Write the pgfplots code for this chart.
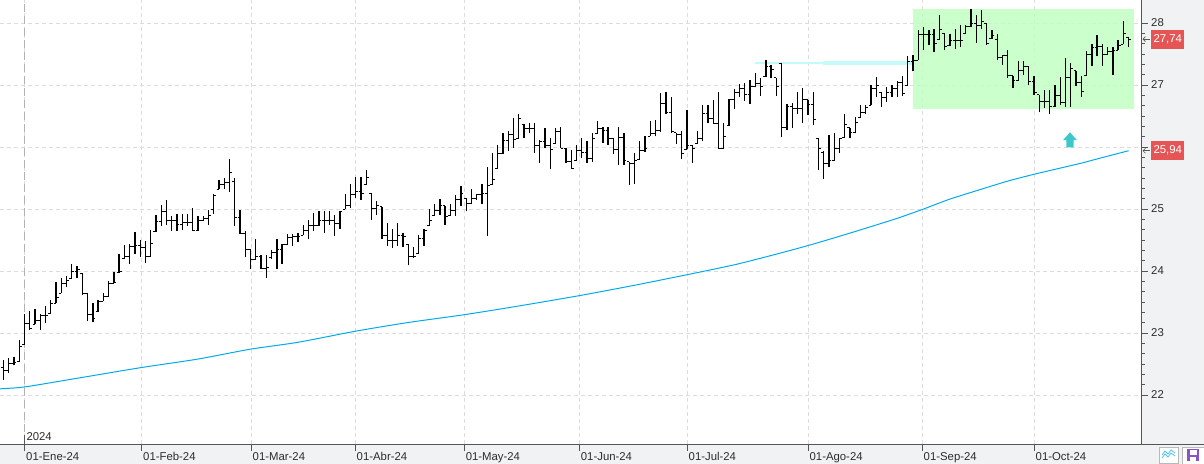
\documentclass[border=0pt]{standalone}
\usepackage{pgfplots}
\usepackage{pgfplotstable}
\pgfplotsset{compat=1.18}
\usepackage{fontspec}
\setmainfont{Liberation Sans}

\definecolor{gridc}{RGB}{220,220,220}
\definecolor{axc}{RGB}{85,85,85}
\definecolor{txt}{RGB}{45,45,45}
\definecolor{mac}{RGB}{0,170,235}
\definecolor{boxgreen}{RGB}{190,255,190}
\definecolor{cyanl}{RGB}{195,250,252}
\definecolor{arrowc}{RGB}{60,200,200}
\definecolor{redl}{RGB}{230,85,85}
\definecolor{panel}{RGB}{241,242,244}
\definecolor{floppy}{RGB}{140,80,200}

\pgfdeclareplotmark{otick}{\pgfpathmoveto{\pgfqpoint{-2.5bp}{0pt}}\pgfpathlineto{\pgfqpoint{0pt}{0pt}}\pgfusepathqstroke}
\pgfdeclareplotmark{ctick}{\pgfpathmoveto{\pgfqpoint{0pt}{0pt}}\pgfpathlineto{\pgfqpoint{2.5bp}{0pt}}\pgfusepathqstroke}

\pgfplotstableread{
n O H L C
-5 22.40 22.55 22.35 22.48
-4 22.45 22.57 22.24 22.40
-3 22.40 22.59 22.35 22.51
-2 22.51 22.62 22.48 22.52
-1 22.54 22.89 22.54 22.78
0 22.81 23.30 22.81 23.16
1 23.16 23.35 23.05 23.08
2 23.14 23.38 23.14 23.20
3 23.20 23.30 23.05 23.29
4 23.29 23.44 23.16 23.29
5 23.32 23.54 23.32 23.48
6 23.48 23.83 23.48 23.57
7 23.64 23.88 23.64 23.80
8 23.80 23.92 23.75 23.84
9 23.88 24.12 23.88 23.99
10 23.99 24.08 23.88 24.02
11 23.96 23.96 23.62 23.63
12 23.63 23.65 23.19 23.30
13 23.30 23.49 23.17 23.24
14 23.34 23.54 23.34 23.51
15 23.51 23.64 23.51 23.59
16 23.59 23.84 23.59 23.80
17 23.80 23.99 23.80 23.81
18 23.97 24.27 23.97 23.99
19 24.20 24.42 24.20 24.23
20 24.23 24.43 24.12 24.39
21 24.39 24.63 24.28 24.41
22 24.41 24.50 24.23 24.38
23 24.38 24.48 24.13 24.24
24 24.24 24.66 24.24 24.44
25 24.63 24.90 24.63 24.80
26 24.80 25.06 24.73 24.96
27 24.96 25.15 24.74 24.81
28 24.81 24.89 24.65 24.81
29 24.81 24.92 24.65 24.75
30 24.75 24.92 24.66 24.78
31 24.78 24.92 24.73 24.79
32 24.79 25.01 24.65 24.66
33 24.66 24.89 24.65 24.81
34 24.81 24.89 24.80 24.85
35 24.85 24.98 24.74 24.90
36 24.99 25.25 24.92 25.22
37 25.32 25.47 25.32 25.39
38 25.39 25.50 25.33 25.42
39 25.42 25.80 25.28 25.59
40 25.45 25.50 24.73 24.87
41 24.87 24.98 24.59 24.60
42 24.60 24.65 24.22 24.34
43 24.34 24.35 24.04 24.19
44 24.19 24.51 24.18 24.24
45 24.24 24.26 24.03 24.04
46 24.04 24.26 23.89 24.06
47 24.22 24.34 24.20 24.30
48 24.30 24.51 24.04 24.34
49 24.34 24.44 24.12 24.42
50 24.42 24.59 24.42 24.54
51 24.54 24.59 24.40 24.56
52 24.56 24.62 24.47 24.56
53 24.58 24.74 24.58 24.66
54 24.66 24.82 24.51 24.74
55 24.74 24.94 24.65 24.74
56 24.74 24.97 24.73 24.81
57 24.81 24.97 24.62 24.81
58 24.81 24.97 24.74 24.82
59 24.82 24.91 24.57 24.76
60 24.76 24.97 24.68 24.96
61 25.00 25.24 25.00 25.06
62 25.06 25.40 25.01 25.23
63 25.23 25.52 25.17 25.29
64 25.29 25.51 25.15 25.25
65 25.39 25.63 25.39 25.51
66 25.25 25.25 24.82 25.01
67 25.01 25.13 24.90 25.06
68 25.04 25.04 24.52 24.58
69 24.58 24.78 24.41 24.50
70 24.50 24.68 24.37 24.50
71 24.50 24.78 24.41 24.58
72 24.58 24.62 24.38 24.55
73 24.43 24.43 24.09 24.23
74 24.23 24.39 24.21 24.23
75 24.28 24.58 24.28 24.52
76 24.52 24.68 24.41 24.65
77 24.73 25.00 24.73 24.82
78 24.90 25.08 24.90 24.98
79 24.98 25.16 24.91 25.05
80 25.05 25.05 24.75 24.88
81 24.89 25.08 24.89 24.98
82 24.98 25.23 24.89 25.16
83 25.16 25.37 25.05 25.25
84 25.17 25.17 24.96 25.09
85 25.09 25.33 25.08 25.17
86 25.17 25.25 25.15 25.23
87 25.23 25.41 25.08 25.25
88 25.25 25.68 24.57 25.38
89 25.40 25.90 25.39 25.47
90 25.66 26.03 25.66 25.90
91 25.90 26.23 25.89 26.10
92 26.10 26.26 25.94 26.20
93 26.20 26.46 25.99 26.12
94 26.14 26.54 26.14 26.46
95 26.37 26.37 26.14 26.30
96 26.30 26.38 26.22 26.30
97 26.30 26.39 25.91 26.03
98 26.03 26.12 25.75 26.09
99 26.09 26.30 25.98 26.03
100 26.03 26.15 25.64 25.96
101 26.06 26.30 26.06 26.25
102 26.25 26.32 25.98 25.98
103 25.98 25.98 25.75 25.76
104 25.76 25.95 25.64 25.66
105 25.78 26.03 25.78 25.95
106 25.95 26.14 25.83 25.91
107 25.91 26.09 25.74 25.82
108 25.82 26.22 25.76 26.14
109 26.22 26.42 26.22 26.30
110 26.30 26.33 26.06 26.26
111 26.26 26.32 26.03 26.14
112 26.14 26.14 25.89 25.96
113 25.96 26.33 25.71 26.16
114 26.16 26.23 25.71 25.78
115 25.76 25.76 25.39 25.74
116 25.74 25.91 25.41 25.79
117 25.80 26.09 25.80 25.95
118 25.95 26.17 25.92 25.98
119 26.17 26.42 26.17 26.22
120 26.22 26.44 26.17 26.26
121 26.26 26.87 26.25 26.70
122 26.70 26.88 26.53 26.55
123 26.55 26.80 26.22 26.25
124 26.23 26.23 26.05 26.20
125 26.20 26.26 25.80 25.89
126 25.96 26.60 25.96 26.03
127 26.03 26.03 25.74 25.97
128 26.06 26.26 26.06 26.14
129 26.14 26.68 26.10 26.54
130 26.54 26.68 26.38 26.46
131 26.46 26.76 26.38 26.38
132 26.38 26.88 25.97 25.98
133 25.98 26.38 25.97 26.17
134 26.34 26.78 26.34 26.77
135 26.77 26.93 26.62 26.88
136 26.88 27.01 26.81 26.95
137 26.95 27.04 26.75 26.84
138 26.84 27.08 26.70 26.97
139 26.97 27.20 26.96 27.03
140 27.03 27.11 26.82 26.97
141 27.13 27.41 27.13 27.30
142 27.30 27.32 27.11 27.25
143 27.12 27.12 26.82 26.97
144 27.34 27.36 26.16 26.32
145 26.32 26.70 26.28 26.66
146 26.66 26.71 26.30 26.62
147 26.62 26.88 26.54 26.62
148 26.62 26.95 26.39 26.76
149 26.76 26.76 26.52 26.68
150 26.68 26.89 26.35 26.45
151 26.14 26.14 25.63 25.98
152 25.91 25.94 25.49 25.74
153 25.74 26.20 25.67 25.79
154 25.79 26.22 25.78 25.97
155 25.97 26.14 25.90 26.13
156 26.15 26.54 26.15 26.37
157 26.31 26.31 26.15 26.23
158 26.23 26.49 26.22 26.40
159 26.47 26.67 26.47 26.56
160 26.56 26.67 26.54 26.63
161 26.67 27.00 26.67 26.95
162 26.95 27.13 26.81 27.00
163 26.88 26.88 26.65 26.80
164 26.80 26.97 26.73 26.88
165 26.88 27.00 26.80 26.95
166 26.95 27.06 26.81 27.04
167 27.04 27.15 26.83 26.87
168 26.99 27.46 26.99 27.38
169 27.38 27.48 27.22 27.40
170 27.40 27.89 27.40 27.82
171 27.82 27.94 27.56 27.82
172 27.82 27.89 27.65 27.82
173 27.82 27.90 27.54 27.67
174 27.73 28.13 27.73 27.90
175 27.83 27.83 27.56 27.62
176 27.63 27.83 27.63 27.71
177 27.71 27.90 27.58 27.71
178 27.71 27.97 27.62 27.71
179 27.83 27.97 27.83 27.94
180 27.94 28.23 27.94 28.00
181 28.00 28.13 27.67 27.96
182 27.96 28.21 27.90 28.03
183 28.00 28.00 27.65 27.67
184 27.75 27.89 27.75 27.80
185 27.74 27.82 27.40 27.45
186 27.45 27.49 27.32 27.47
187 27.47 27.56 27.11 27.15
188 27.15 27.15 26.95 27.08
189 27.08 27.39 27.06 27.23
190 27.23 27.38 27.16 27.30
191 27.30 27.30 27.00 27.06
192 27.06 27.15 26.84 26.88
193 26.84 26.84 26.56 26.73
194 26.73 26.92 26.63 26.74
195 26.74 26.92 26.53 26.66
196 26.66 27.00 26.65 26.83
197 26.83 27.13 26.67 26.71
198 26.71 27.43 26.65 27.12
199 27.12 27.35 26.65 27.26
200 27.23 27.23 26.99 27.04
201 27.04 27.15 26.81 26.90
202 27.16 27.55 27.16 27.50
203 27.50 27.66 27.30 27.60
204 27.60 27.81 27.46 27.62
205 27.62 27.66 27.31 27.49
206 27.49 27.61 27.48 27.54
207 27.54 27.61 27.16 27.55
208 27.56 27.73 27.56 27.63
209 27.66 28.03 27.66 27.83
210 27.77 27.77 27.61 27.74
}\ohlc

\pgfplotstableread{
n ma
-4.66 22.10
0 22.13
10 22.27
22 22.44
33 22.58
43 22.74
52 22.85
63 23.03
73 23.17
84 23.30
95 23.45
106 23.61
116 23.77
126 23.94
135 24.10
142 24.25
149 24.41
155 24.56
160 24.69
166 24.85
171 25.00
176 25.16
182 25.32
187 25.45
192 25.56
197 25.66
201 25.74
205 25.83
210 25.94
}\matab

\begin{document}
\begin{tikzpicture}
\useasboundingbox (0,0) rectangle (1204bp,464bp);
\fill[panel] (0,0) rectangle (1204bp,20bp);
\fill[panel] (1141bp,0) rectangle (1204bp,464bp);
\begin{axis}[
  at={(0,20bp)}, anchor=south west,
  scale only axis, width=1141bp, height=444bp,
  xmin=-4.66, xmax=212.35, ymin=21.21, ymax=28.371,
  axis x line*=bottom, axis y line*=right,
  axis line style={axc, line width=0.9bp},
  xtick={0,22.25,43.08,62.86,83.6,105.5,126,149,170.7,192},
  xticklabels={01-Ene-24,01-Feb-24,01-Mar-24,01-Abr-24,01-May-24,01-Jun-24,01-Jul-24,01-Ago-24,01-Sep-24,01-Oct-24},
  ytick={22,23,24,25,26,27,28},
  yticklabels={22,23,24,25,{},27,28},
  minor y tick num=5,
  tick align=outside,
  major tick length=7bp, minor tick length=3.5bp,
  tick style={axc, line width=0.8bp},
  grid=major,
  major grid style={gridc, dash pattern=on 4bp off 3bp, line width=0.8bp},
  ticklabel style={font=\fontsize{11.4}{13}\selectfont, text=txt},
  xticklabel style={anchor=north west, inner sep=1.5bp},
  yticklabel style={anchor=west, inner sep=1bp, xshift=2bp},
  clip=true,
]
\addplot[draw=none, fill=boxgreen, fill opacity=0.8] coordinates {(169,26.62) (211,26.62) (211,28.23) (169,28.23)} -- cycle;
\addplot[cyanl, line width=2bp] coordinates {(138.9,27.355) (151.9,27.355)};
\addplot[cyanl, line width=4.5bp] coordinates {(151.9,27.355) (169,27.355)};
\draw[gray!60, dash pattern=on 8bp off 4bp, line width=1bp] (axis cs:0,21.21) -- (axis cs:0,28.371);
\addplot[mac, line width=1bp, smooth, tension=0.4] table[x=n, y=ma] {\matab};
\addplot[black, line width=1.3bp, quiver={u=0, v=\thisrow{H}-\thisrow{L}}] table[x=n, y=L] {\ohlc};
\addplot[black, only marks, mark=otick, mark options={line width=1bp}] table[x=n, y=O] {\ohlc};
\addplot[black, only marks, mark=ctick, mark options={line width=1bp}] table[x=n, y=C] {\ohlc};
\addplot[draw=none, fill=arrowc] coordinates {(198.84,26.237) (200.17,26.11) (199.55,26.11) (199.55,25.995) (198.13,25.995) (198.13,26.11) (197.51,26.11)} -- cycle;
\coordinate (l1) at (axis cs:212.35,27.74);
\coordinate (l2) at (axis cs:212.35,25.94);
\coordinate (yr) at (axis cs:0,21.21);
\end{axis}
\draw[axc, line width=0.9bp] (1141bp,20bp) -- (1204bp,20bp);
\foreach \p/\t in {l1/{27,74}, l2/{25,94}} {
  \node[fill=redl, text=white, font=\fontsize{11.4}{13}\selectfont, anchor=west, minimum width=33bp, minimum height=19bp, inner sep=0pt] at ([xshift=10bp]\p) {\t};
  \draw[axc, line width=0.6bp] ([xshift=8.5bp]\p) -- ([xshift=2bp]\p);
  \draw[axc, line width=0.6bp] ([xshift=4.5bp,yshift=2.5bp]\p) -- ([xshift=2bp]\p) -- ([xshift=4.5bp,yshift=-2.5bp]\p);
}
\node[anchor=base west, inner sep=0pt, font=\fontsize{11.4}{13}\selectfont, text=txt] at ([xshift=1.8bp,yshift=4bp]yr) {2024};
\draw[gray!70!black, line width=0.8bp] (yr) -- ([yshift=9bp]yr);
\draw[gray!55, fill=white] (1159bp,1bp) rectangle (1178bp,17bp);
\draw[mac!70, line width=0.8bp] (1162bp,6bp) -- (1165bp,10bp) -- (1168bp,7bp) -- (1171bp,11bp) -- (1175bp,8bp);
\draw[mac!70, line width=0.8bp] (1162bp,9bp) -- (1165bp,13bp) -- (1168bp,10bp) -- (1171bp,14bp) -- (1175bp,11bp);
\draw[gray!55, fill=white] (1182bp,0bp) rectangle (1204bp,17bp);
\fill[floppy] (1187bp,2.5bp) rectangle (1199bp,14.5bp);
\fill[white] (1189.5bp,9bp) rectangle (1196.5bp,14bp);
\fill[white] (1190bp,2.5bp) rectangle (1196bp,6.5bp);
\end{tikzpicture}
\end{document}
